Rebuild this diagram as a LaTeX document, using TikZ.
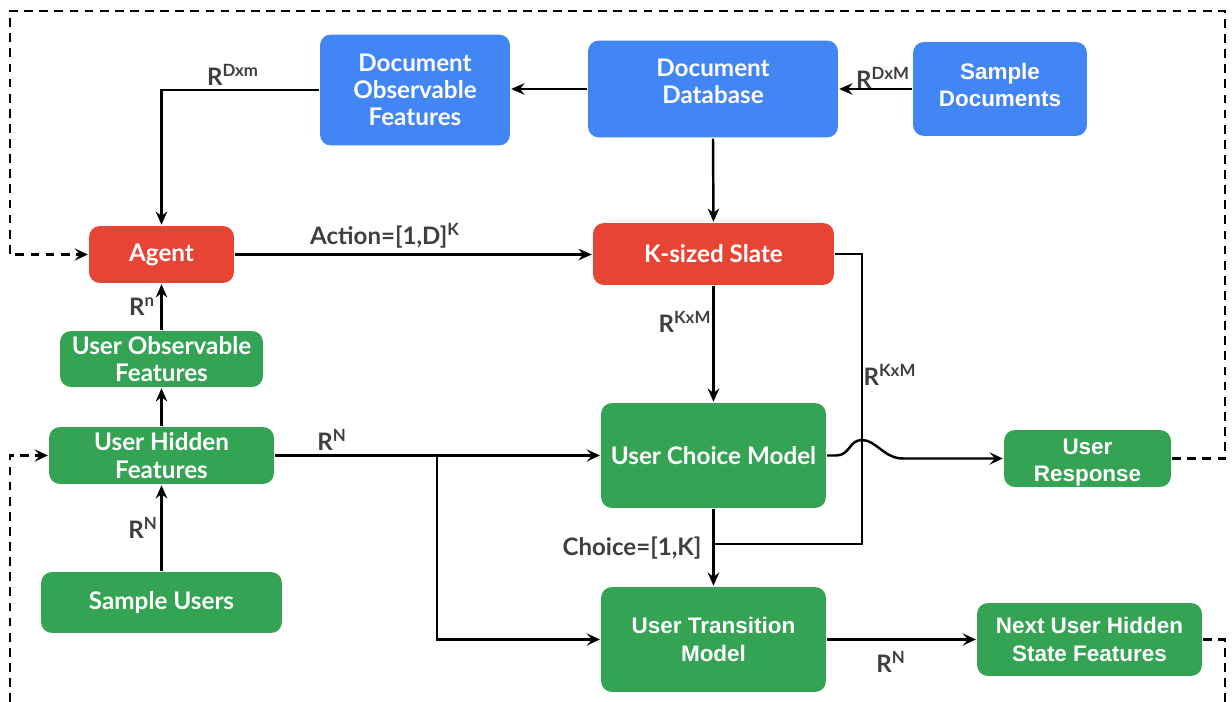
\documentclass[tikz,border=0pt]{standalone}
\usepackage{fontspec}
\setmainfont{Liberation Sans}
\newfontfamily\gfont{Lato}
\usetikzlibrary{arrows.meta}
\definecolor{gblue}{HTML}{4285F4}
\definecolor{gred}{HTML}{E64536}
\definecolor{ggreen}{HTML}{34A353}
\definecolor{lblgray}{HTML}{3C4043}
\tikzset{
  gtext/.style={text=white, align=center, inner sep=0pt,
    font=\gfont\bfseries\fontsize{13.8}{15.5}\selectfont},
  atext/.style={text=white, align=center, inner sep=0pt,
    font=\bfseries\fontsize{12.8}{15.5}\selectfont},
  box/.style={rounded corners=0.22cm, gtext},
  abox/.style={box, atext},
  bluebox/.style={box, fill=gblue},
  redbox/.style={box, fill=gred},
  greenbox/.style={box, fill=ggreen},
  lbl/.style={text=lblgray, inner sep=0pt, font=\gfont\bfseries\fontsize{13.7}{15}\selectfont},
  dashloop/.style={dash pattern=on 5pt off 3.6pt},
  thinhead/.style={-{Stealth[length=7.5pt,width=7pt,inset=3pt]}},
}
\begin{document}
\begin{tikzpicture}[x=0.02cm, y=-0.02cm, line width=1.4pt,
  >={Stealth[length=7.5pt,width=6.5pt]}]
\useasboundingbox (0,0) rectangle (1232,702);

% document side
\node[bluebox, minimum width=3.8cm, minimum height=2.22cm] (dof) at (415,90) {Document\\Observable\\Features};
\node[bluebox, minimum width=5.0cm, minimum height=1.94cm,
  label={[gtext, yshift=0.15cm]center:{Document\\Database}}] (ddb) at (713,89) {};
\node[bluebox, minimum width=3.48cm, minimum height=1.88cm,
  label={[atext, yshift=0.08cm]center:{Sample\\Documents}}] (sd) at (1000,89) {};

% agent and slate
\node[redbox, minimum width=2.9cm, minimum height=1.14cm] (agent) at (161.5,254.5) {Agent};
\node[redbox, minimum width=4.82cm, minimum height=1.24cm] (slate) at (713.5,254) {K-sized Slate};

% user side
\node[greenbox, minimum width=4.06cm, minimum height=1.12cm] (uof) at (161.5,359) {User Observable\\Features};
\node[greenbox, minimum width=4.5cm, minimum height=1.14cm] (uhf) at (161.5,455.5) {User Hidden\\Features};
\node[greenbox, minimum width=4.82cm, minimum height=1.22cm] (su) at (161.5,602.5) {Sample Users};
\node[greenbox, minimum width=4.5cm, minimum height=2.1cm] (ucm) at (713.5,455.5) {User Choice Model};
\node[greenbox, minimum width=3.34cm, minimum height=1.14cm,
  label={[atext, yshift=-0.08cm]center:{User\\Response}}] (ur) at (1087.5,458.5) {};
\node[greenbox, abox, fill=ggreen, minimum width=4.5cm, minimum height=2.1cm] (utm) at (713.5,639.5) {User Transition\\Model};
\node[greenbox, abox, fill=ggreen, minimum width=4.5cm, minimum height=1.46cm] (nuh) at (1089.5,639.5) {Next User Hidden\\State Features};

% labels
\node[lbl] (lDxm) at (233,75) {R\textsuperscript{Dxm}};
\node[lbl] (lDxM) at (883,78) {R\textsuperscript{DxM}};
\node[lbl] (lact) at (385,236) {Action=[1,D]\textsuperscript{K}};
\node[lbl] (ln) at (142,307) {R\textsuperscript{n}};
\node[lbl] (lKxM1) at (685,322) {R\textsuperscript{KxM}};
\node[lbl] (lKxM2) at (890,375) {R\textsuperscript{KxM}};
\node[lbl] (lN1) at (332,440) {R\textsuperscript{N}};
\node[lbl] (lN2) at (143,528) {R\textsuperscript{N}};
\node[lbl] (lch) at (632,548) {Choice=[1,K]};
\node[lbl] (lN3) at (891,662) {R\textsuperscript{N}};

% solid connectors
\draw[->] (sd.west) -- (sd.west -| ddb.east);
\draw[->] (ddb.west) -- (ddb.west -| dof.east);
\draw[->] (dof.west) -| (agent.north);
\draw[->] (ddb.south) -- (slate.north);
\draw[->] (agent.east) -- (agent.east -| slate.west);
\draw[->] (slate.south) -- (ucm.north);
\coordinate (sj) at (862,544);
\draw (slate.east) -| (sj) -- (sj -| ucm.south);
\draw[->] (ucm.south) -- (utm.north);
\coordinate (h1) at (836,455.5);
\coordinate (h2) at (862,440);
\coordinate (h3) at (903,458.5);
\draw[thinhead] (ucm.east) -- (h1) .. controls (850,455.5) and (849,440) .. (h2)
  .. controls (876,440) and (884,458.5) .. (h3) -- (ur.west);
\draw[thinhead] (uhf.east) -- (ucm.west);
\coordinate (br) at (437,455.5);
\draw[thinhead] (br) |- (utm.west);
\draw[thinhead] (utm.east) -- (nuh.west);
\draw[->] (su.north) -- (uhf.south);
\draw[->] (uhf.north) -- (uof.south);
\draw[->] (uof.north) -- (agent.south);

% dashed feedback loops
\coordinate (tr) at (1225,11);
\coordinate (tl) at (10,11);
\draw[dashloop, thinhead] (ur.east) -| (tr) -- (tl) |- (agent.west);
\coordinate (rb) at (1225,702);
\coordinate (lb) at (10,702);
\draw[dashloop] (nuh.east) -| (rb);
\draw[dashloop, thinhead] (lb) |- (uhf.west);
\end{tikzpicture}
\end{document}
